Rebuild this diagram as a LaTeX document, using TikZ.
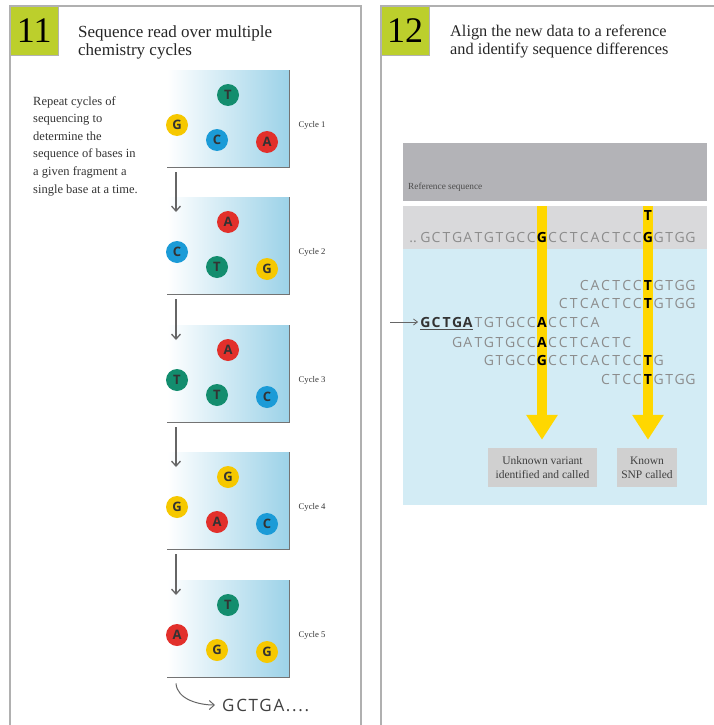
\documentclass[tikz,border=0pt]{standalone}
\usepackage{fontspec}
\setmainfont{Liberation Serif}
\newfontfamily\seqfont{Open Sans}
\usetikzlibrary{arrows.meta,calc,positioning}
\definecolor{frame}{HTML}{B0B0B0}
\definecolor{tabgreen}{HTML}{BCCF2C}
\definecolor{cellblue}{HTML}{9CD2E8}
\definecolor{baseG}{HTML}{F6C800}
\definecolor{baseT}{HTML}{138D6E}
\definecolor{baseC}{HTML}{1B9BD7}
\definecolor{baseA}{HTML}{E2302B}
\definecolor{refgray}{HTML}{B3B3B7}
\definecolor{bandgray}{HTML}{D9D9DB}
\definecolor{readblue}{HTML}{D3ECF5}
\definecolor{snpyellow}{HTML}{FFD700}
\definecolor{seqgray}{HTML}{8C8C8C}
\definecolor{callgray}{HTML}{D0D0D0}

\newcommand\snpch[1]{{\bfseries\color{black}#1}}
\newcommand\leadch[1]{{\bfseries\color{black!80}#1}}
% one row of letters on the alignment grid: name, y, first column, letters
\newcommand\seqrow[4]{%
  \foreach \ch [count=\i from #3] in {#4}{%
    \node[seqchar] (#1-\i) at ({425.4+10.6*\i},#2) {\ch};}}

\tikzset{
  panel/.style={draw=frame,line width=1.8pt},
  tab/.style={fill=tabgreen,draw=black!30,anchor=north west,minimum width=48pt,
    minimum height=49pt,inner sep=0pt,font=\fontsize{36}{36}\selectfont},
  heading/.style={anchor=west,align=left,inner sep=0pt,text=black!85},
  cell/.style={anchor=north west,minimum width=122pt,minimum height=97pt,inner sep=0pt,
    left color=white,right color=cellblue},
  celledge/.style={draw=black!55,line width=1.6pt},
  base/.style={circle,minimum size=22pt,inner sep=0pt,
    font=\seqfont\bfseries\fontsize{13}{13}\selectfont,text=black!80},
  flow/.style={draw=black!60,line width=1.3pt,-{Straight Barb[length=5pt,width=9pt]}},
  seqchar/.style={inner sep=0pt,text height=10pt,text depth=0pt,
    font=\seqfont\fontsize{14}{14}\selectfont,text=seqgray},
  snp/.style={draw=snpyellow,line width=10pt,-{Triangle[length=25pt,width=30pt]}},
  call/.style={fill=callgray,align=center,inner sep=0pt,minimum height=39pt,
    font=\fontsize{11.5}{14}\selectfont,text=black!75},
}

\begin{document}
\begin{tikzpicture}[x=1pt,y=-1pt]
  \useasboundingbox (0,0) rectangle (714,725);

  % panel frames
  \draw[panel] (10,725) -- (10,6) -- (361,6) -- (361,725);
  \draw[panel] (381,725) -- (381,6) -- (714,6);

  \node[tab] (tab11) at (10,6) {11};
  \node[tab] (tab12) at (381,6) {12};
  \node[heading,font=\fontsize{17}{18}\selectfont] (head11) at (78,42)
    {Sequence read over multiple\\chemistry cycles};
  \node[heading,font=\fontsize{16.3}{18}\selectfont] (head12) at (450,42)
    {Align the new data to a reference\\and identify sequence differences};

  \node[anchor=north west,align=left,inner sep=0pt,font=\fontsize{12.5}{17.6}\selectfont,text=black!80]
    (intro) at (33,96) {Repeat cycles of\\sequencing to\\determine the\\sequence of bases in\\a given fragment a\\single base at a time.};

  % cycles
  \foreach \n/\top/\pa/\pb/\pc/\pd in {1/70/T/G/C/A,2/197/A/C/T/G,3/325/A/T/T/C,
                                       4/452/G/G/A/C,5/580/T/A/G/G}{
    \node[cell] (cell\n) at (167,\top) {};
    \draw[celledge] (cell\n.south west) -- (cell\n.south east) -- (cell\n.north east);
    \node[base,fill=base\pa] (cell\n-a) at ($(cell\n.north west)+(61,25)$) {\pa};
    \node[base,fill=base\pb] (cell\n-b) at ($(cell\n.north west)+(10,55)$) {\pb};
    \node[base,fill=base\pc] (cell\n-c) at ($(cell\n.north west)+(50,70)$) {\pc};
    \node[base,fill=base\pd] (cell\n-d) at ($(cell\n.north west)+(100,72)$) {\pd};
    \node[anchor=west,inner sep=0pt,font=\fontsize{8.7}{10}\selectfont,text=black!80]
      (cyc\n) at ($(cell\n.east)+(9,7)$) {Cycle \n};
  }
  \foreach \a/\b in {1/2,2/3,3/4,4/5}
    \draw[flow] ([xshift=9pt,yshift=-5pt]cell\a.south west) -- ([xshift=9pt,yshift=-15pt]cell\b.north west);

  \node[anchor=west,inner sep=0pt,font=\seqfont\fontsize{17}{17}\selectfont\addfontfeature{LetterSpace=10},text=black!75]
    (called) at (222,705) {GCTGA....};
  \draw[flow,line width=1pt] ([xshift=9pt,yshift=-6pt]cell5.south west)
    .. controls +(1,16) and +(-16,0) .. ([xshift=-7pt]called.west);

  % alignment
  \node[fill=refgray,anchor=north west,minimum width=304pt,minimum height=58pt,inner sep=0pt]
    (refbox) at (403,143) {};
  \node[anchor=west,inner sep=0pt,font=\fontsize{9.3}{10}\selectfont,text=black!70]
    (reflab) at (408,187) {Reference sequence};
  \fill[bandgray] (403,206) rectangle (707,249);
  \fill[readblue] (403,249) rectangle (707,505);

  \node[call,minimum width=109pt] (unknown) at (542.5,467.5) {Unknown variant\\identified and called};
  \node[call,minimum width=60pt] (known) at (647,467.5) {Known\\SNP called};

  \coordinate (var1) at (542,206);
  \coordinate (var2) at (648,206);
  \draw[snp] (var1) -- ($(var1 |- unknown.north)+(0,-8)$);
  \draw[snp] (var2) -- ($(var2 |- known.north)+(0,-8)$);

  \node[seqchar] (refdots) at (413,237) {..};
  \seqrow{ref}{237}{0}{G,C,T,G,A,T,G,T,G,C,C,\snpch{G},C,C,T,C,A,C,T,C,C,\snpch{G},G,T,G,G}
  \node[seqchar] (alt) at ({425.4+10.6*21},215) {\snpch{T}};
  \seqrow{ra}{285}{15}{C,A,C,T,C,C,\snpch{T},G,T,G,G}
  \seqrow{rb}{303}{13}{C,T,C,A,C,T,C,C,\snpch{T},G,T,G,G}
  \seqrow{rc}{322}{0}{\leadch{G},\leadch{C},\leadch{T},\leadch{G},\leadch{A},T,G,T,G,C,C,\snpch{A},C,C,T,C,A}
  \seqrow{rd}{342}{3}{G,A,T,G,T,G,C,C,\snpch{A},C,C,T,C,A,C,T,C}
  \seqrow{re}{360}{6}{G,T,G,C,C,\snpch{G},C,C,T,C,A,C,T,C,C,\snpch{T},G}
  \seqrow{rf}{379}{17}{C,T,C,C,\snpch{T},G,T,G,G}

  \coordinate (feed) at (390,322);
  \draw[black!60,line width=0.8pt,-{Straight Barb[length=4pt,width=6pt]}] (feed) -- ([xshift=-2pt]rc-0.west);
  \draw[black!70,line width=0.7pt] ([yshift=-2pt]rc-0.south west) -- ([yshift=-2pt]rc-4.south east);
\end{tikzpicture}
\end{document}
